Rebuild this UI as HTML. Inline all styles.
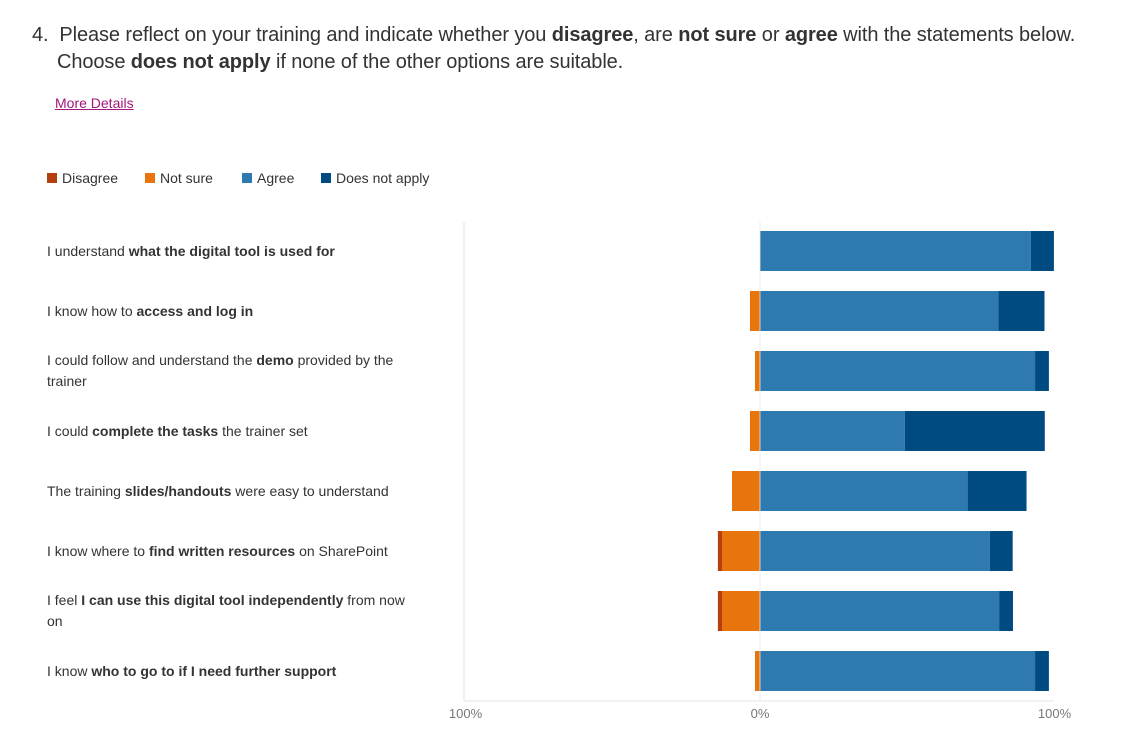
<!DOCTYPE html>
<html><head><meta charset="utf-8"><style>
body{margin:0;width:1129px;height:739px;background:#fff;font-family:"Liberation Sans",sans-serif;color:#222;position:relative;overflow:hidden}
.t{position:absolute;left:32px;top:22px;font-size:20px;line-height:27px;color:#333;letter-spacing:-0.1px}
.md{position:absolute;left:55px;top:95px;font-size:14px;color:#a3167a;text-decoration:underline}
.lg{position:absolute;top:170px;font-size:14px;color:#333}
.lg i{display:inline-block;width:10px;height:10px;margin-right:5px;vertical-align:0}
.lab{position:absolute;left:47px;width:370px;font-size:14px;line-height:21px;color:#333}
</style></head><body>
<div class="t">4.&nbsp; Please reflect on your training and indicate whether you <b>disagree</b>, are <b>not sure</b> or <b>agree</b> with the statements below.<br><span style="padding-left:25px">Choose <b>does not apply</b> if none of the other options are suitable.</span></div>
<a class="md">More Details</a>
<div class="lg" style="left:47px"><i style="background:#b5400f"></i>Disagree</div>
<div class="lg" style="left:145px"><i style="background:#e8740e"></i>Not sure</div>
<div class="lg" style="left:242px"><i style="background:#2e7ab0"></i>Agree</div>
<div class="lg" style="left:321px"><i style="background:#004a82"></i>Does not apply</div>
<div id="labels"></div>
<svg id="chart" width="1129" height="739" style="position:absolute;left:0;top:0"></svg>
<script>
const labels=["I understand <b>what the digital tool is used for</b>","I know how to <b>access and log in</b>","I could follow and understand the <b>demo</b> provided by the trainer","I could <b>complete the tasks</b> the trainer set","The training <b>slides/handouts</b> were easy to understand","I know where to <b>find written resources</b> on SharePoint","I feel <b>I can use this digital tool independently</b> from now on","I know <b>who to go to if I need further support</b>"];
const disagree=[0,0,0,0,0,1.4,1.4,0];
const notSure=[0,3.4,1.7,3.4,9.5,12.9,12.9,1.7];
const agree=[92,81,93.4,49.2,70.5,78,81.2,93.4];
const doesNotApply=[7.8,15.6,4.7,47.5,20,7.8,4.7,4.7];
const ticks=["100%","0%","100%"];
const tickVals=[-100,0,100];
const NS="http://www.w3.org/2000/svg",svg=document.getElementById('chart');
const x=v=>760+v*2.945;
const y=i=>231+i*60;
function mk(t,a){const e=document.createElementNS(NS,t);for(const k in a)e.setAttribute(k,a[k]);svg.appendChild(e);return e;}
const ax=mk('line',{x1:464,x2:464,y1:222,y2:701,stroke:'#e6e6e6'});


const bl=mk('line',{x1:464,x2:1054,y1:701,y2:701,stroke:'#e6e6e6'});


tickVals.forEach((v,j)=>{const t=mk('text',{x:x(v),y:718,'text-anchor':'middle','font-size':13,fill:'#777','font-family':'Liberation Sans'});t.textContent=ticks[j];

});
const L=document.getElementById('labels');
labels.forEach((s,i)=>{
 const d=document.createElement('div');d.className='lab';d.innerHTML=s;
 
 
 L.appendChild(d);
 const b1=disagree[i]+notSure[i];
 const segs=[[-b1,-notSure[i],'#b5400f','bar-disagree'],[-notSure[i],0,'#e8740e','bar-not-sure'],[0,agree[i],'#2e7ab0','bar-agree'],[agree[i],agree[i]+doesNotApply[i],'#004a82','bar-does-not-apply']];
 segs.forEach(s=>{if(s[1]-s[0]<=0)return;const r=mk('rect',{x:x(s[0]),y:y(i),width:x(s[1])-x(s[0]),height:40,fill:s[2]});
 
 });
});
document.querySelectorAll('.lab').forEach((d,i)=>{const hh=d.offsetHeight;d.style.top=(y(i)+20-hh/2)+'px';});
const zl=mk('line',{x1:760,x2:760,y1:222,y2:701,stroke:'#e6e6e6','stroke-opacity':0.8});


</script>
</body></html>
